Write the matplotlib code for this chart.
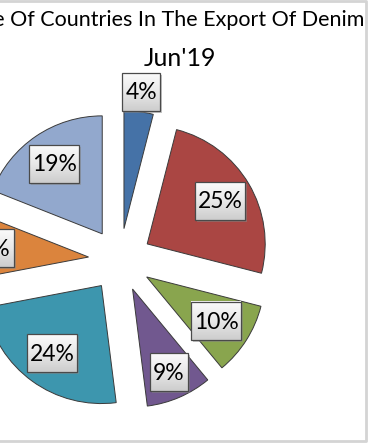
import numpy as np
import matplotlib
matplotlib.use('Agg')
import matplotlib.pyplot as plt
from matplotlib.patches import Rectangle

# data
shares = [4, 25, 10, 9, 24, 9, 19]
labels = ['4%', '25%', '10%', '9%', '24%', '9%', '19%']
colors = ['#4572A7', '#AA4643', '#89A54E', '#71588F', '#3D96AE', '#DB843D', '#92A8CD']
title_line1 = 'Share Of Countries In The Export Of Denim'
title_line2 = "Jun'19"

# label distance from the slice tip, in radii
label_dist = [1.17, 0.72, 0.70, 0.77, 0.71, 0.80, 0.72]

W, H = 368, 443
fig = plt.figure(figsize=(W / 100, H / 100), dpi=100)
ax = fig.add_axes([0, 0, 1, 1])

cx, cy, r = 120, H - 260, 118
wedges, _ = ax.pie(shares, colors=colors, startangle=90, counterclock=False,
                   radius=r, center=(cx, cy), explode=[31.6] * len(shares),
                   wedgeprops=dict(edgecolor='#3a3a3a', linewidth=0.7),
                   frame=True)

# grey gradient for the label boxes (light on top, darker at bottom)
grad = np.linspace(0, 1, 64).reshape(-1, 1)
box_cmap = matplotlib.colors.LinearSegmentedColormap.from_list(
    'box', ['#FBFBFB', '#E8E8E8', '#CDCDCD'])

for w, lab, d in zip(wedges, labels, label_dist):
    mid = np.deg2rad((w.theta1 + w.theta2) / 2)
    x = w.center[0] + d * r * np.cos(mid)
    y = w.center[1] + d * r * np.sin(mid)
    bw, bh = 12 * (len(lab) + 1) + 2, 38
    # shadow
    ax.add_patch(Rectangle((x - bw / 2 + 2, y - bh / 2 - 2), bw, bh,
                           facecolor='#8a8a8a', edgecolor='none', alpha=0.5,
                           zorder=3))
    ax.imshow(grad, cmap=box_cmap, aspect='auto', zorder=4,
              extent=[x - bw / 2, x + bw / 2, y - bh / 2, y + bh / 2])
    ax.add_patch(Rectangle((x - bw / 2, y - bh / 2), bw, bh,
                           facecolor='none', edgecolor='#4a4a4a',
                           linewidth=0.9, zorder=5))
    ax.text(x, y - 1, lab, ha='center', va='center', fontsize=16.5,
            family='Lato', zorder=6)

ax.set_xlim(0, W)
ax.set_ylim(0, H)
ax.set_aspect('equal')
ax.set_axis_off()

fig.text(364 / W, 1 - 20 / H, title_line1, ha='right', va='center',
         fontsize=15.5, family='Lato')
fig.text(180 / W, 1 - 59 / H, title_line2, ha='center', va='center',
         fontsize=18, family='Lato')

# chart border (left side cropped)
ax.plot([-5, 366, 366, -5], [H - 1, H - 1, 2, 2], color='#D4D4D4', lw=2,
        clip_on=False)

fig.savefig('out.png', dpi=100)
